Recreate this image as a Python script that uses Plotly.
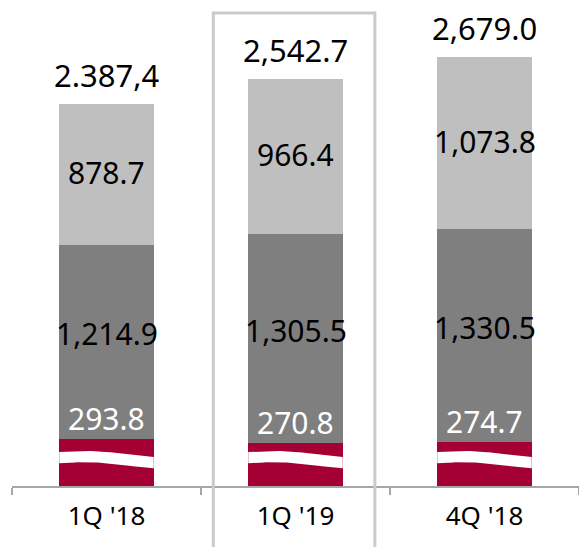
import numpy as np
import plotly.graph_objects as go

# Quarterly stacked values
quarters = ["1Q '18", "1Q '19", "4Q '18"]
base_vals = [293.8, 270.8, 274.7]        # red bottom segment
mid_vals = [1214.9, 1305.5, 1330.5]      # dark gray middle segment
top_vals = [878.7, 966.4, 1073.8]        # light gray top segment
total_labels = ["2.387,4", "2,542.7", "2,679.0"]

RED = "#a50034"
DARK = "#7f7f7f"
LIGHT = "#bfbfbf"
FONT = "Noto Sans"

x = np.arange(len(quarters))
base = np.array(base_vals)
mid = np.array(mid_vals)
top = np.array(top_vals)
totals = base + mid + top

BAR_W = 0.5
Y_MAX = 3037

fig = go.Figure()
for vals, color, name in [(base, RED, "base"), (mid, DARK, "mid"), (top, LIGHT, "top")]:
    fig.add_trace(go.Bar(x=x, y=vals, width=BAR_W, marker=dict(color=color, line=dict(width=0)),
                         name=name, showlegend=False, hoverinfo="skip"))

# White wavy band across the bottom segment (axis-break marker)
t = np.linspace(0, 1, 60)
px_per_unit = 486 / Y_MAX
wave = (-2 * np.sin(1.4 * np.pi * t) + 3 * t) / px_per_unit
band_top = 212 - wave
band_bot = band_top - 70
for xi in x:
    xs = xi - BAR_W / 2 + t * BAR_W
    xs_ext = np.concatenate([xs, xs[::-1]])
    ys_ext = np.concatenate([band_top, band_bot[::-1]])
    fig.add_trace(go.Scatter(x=xs_ext, y=ys_ext, fill="toself", fillcolor="white",
                             mode="lines", line=dict(width=0, color="white"),
                             showlegend=False, hoverinfo="skip"))

annotations = []
for i in range(len(quarters)):
    # totals above bars
    annotations.append(dict(x=x[i], y=totals[i], text=total_labels[i], showarrow=False,
                            yanchor="bottom", yshift=6,
                            font=dict(family=FONT, size=31, color="black")))
    # light segment label
    annotations.append(dict(x=x[i], y=base[i] + mid[i] + top[i] / 2, text=f"{top[i]:,.1f}",
                            showarrow=False, yanchor="middle", yshift=2,
                            font=dict(family=FONT, size=30, color="black")))
    # dark segment label
    annotations.append(dict(x=x[i], y=base[i] + mid[i] / 2, text=f"{mid[i]:,.1f}",
                            showarrow=False, yanchor="middle", yshift=8,
                            font=dict(family=FONT, size=30, color="black")))
    # bottom segment label sits just above the red block
    annotations.append(dict(x=x[i], y=base[i], text=f"{base[i]:,.1f}",
                            showarrow=False, yanchor="bottom", yshift=-2,
                            font=dict(family=FONT, size=30, color="white")))

# Highlight frame around the current quarter
shapes = [dict(type="rect", xref="x", yref="paper", x0=0.565, x1=1.42, y0=-0.15, y1=0.973,
               line=dict(color="#cbcbcb", width=3), fillcolor="rgba(0,0,0,0)", layer="above")]

fig.update_layout(
    width=579, height=547,
    margin=dict(l=12, r=0, t=0, b=61),
    plot_bgcolor="white", paper_bgcolor="white",
    barmode="stack", bargap=0,
    annotations=annotations, shapes=shapes,
    xaxis=dict(range=[-0.5, 2.5], tickvals=list(x), ticktext=quarters, ticks="",
               ticklabelstandoff=6,
               showline=True, linecolor="#a6a6a6", linewidth=2, showgrid=False, zeroline=False,
               tickfont=dict(family=FONT, size=26, color="black"),
               minor=dict(tickvals=[-0.5, 0.5, 1.5, 2.5], ticks="outside", ticklen=7,
                          tickcolor="#a6a6a6", tickwidth=2, showgrid=False),
               fixedrange=True),
    yaxis=dict(range=[0, Y_MAX], visible=False, fixedrange=True),
)

fig.write_html("out.html")
